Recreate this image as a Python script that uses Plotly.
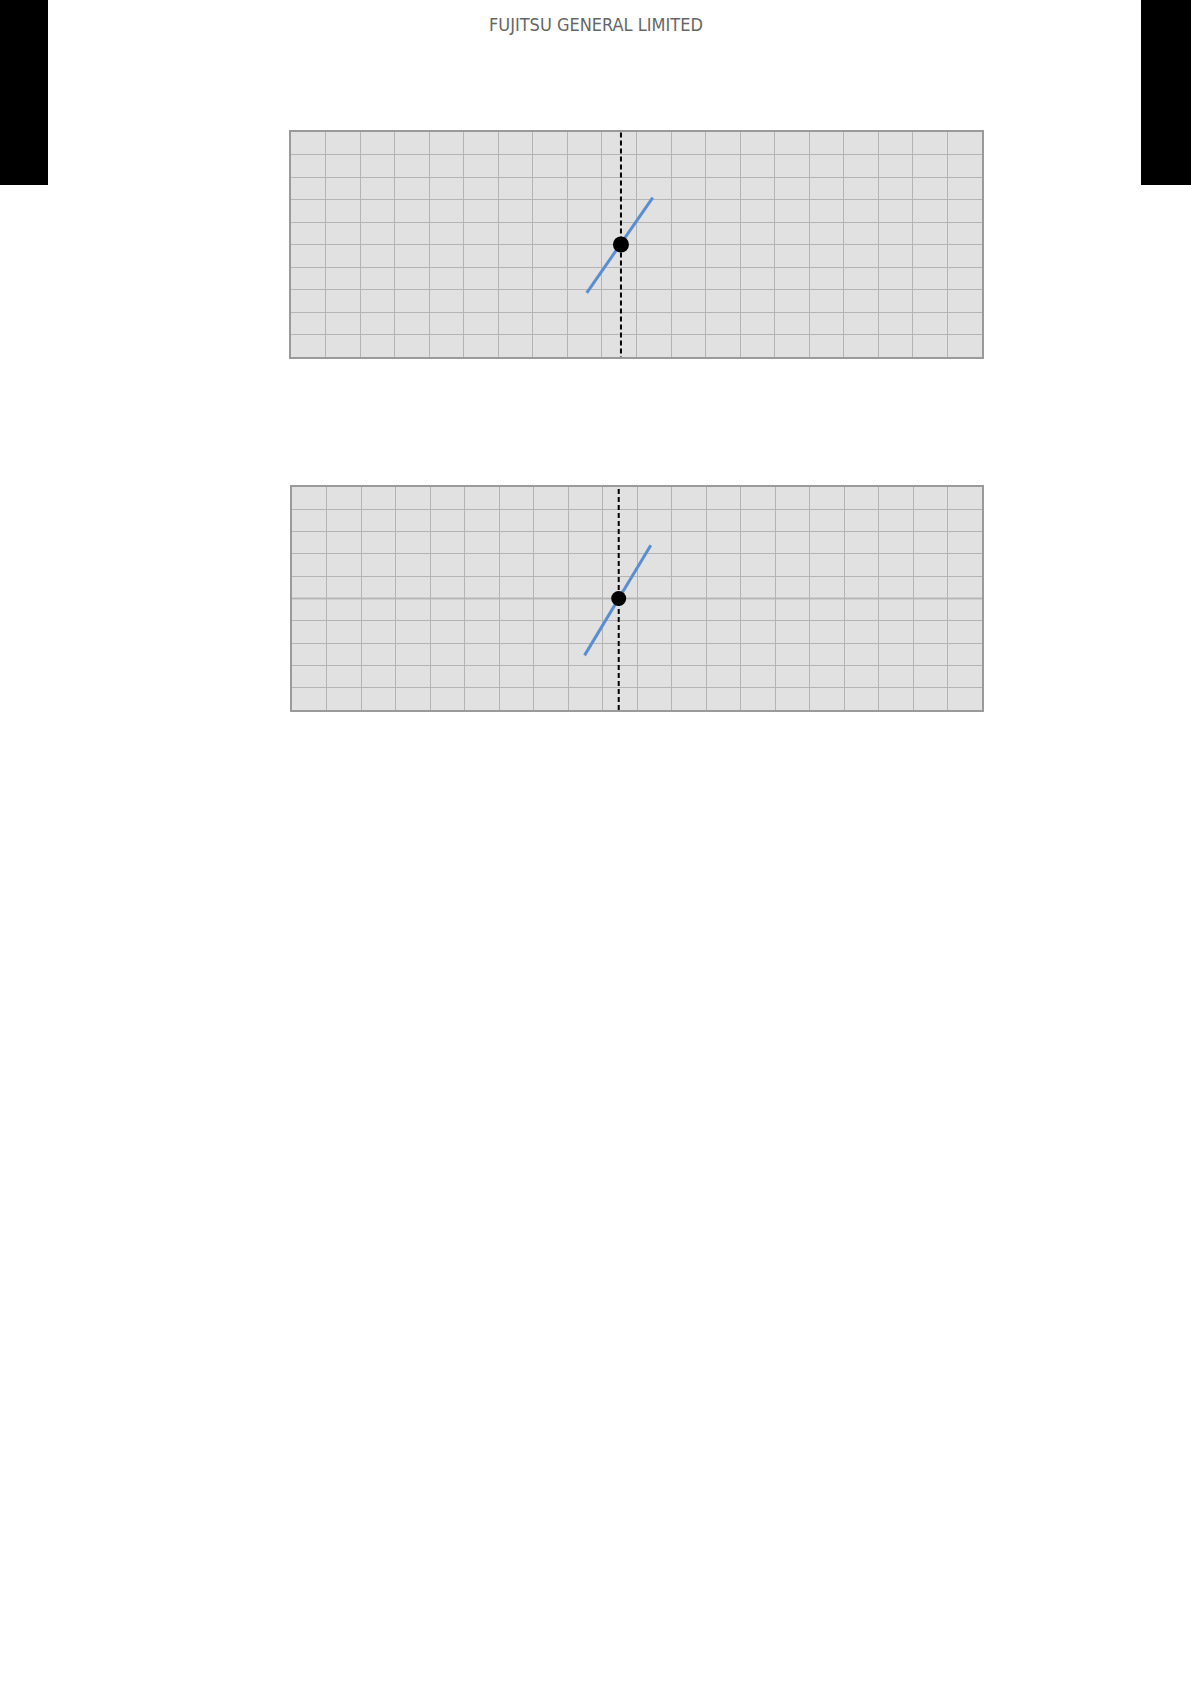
import plotly.graph_objects as go

W, H = 1191, 1684

# upper chart
line1_x = [8.56, 10.47]
line1_y = [2.85, 7.08]
point1_x = [9.55]
point1_y = [5.0]
ref1_x = 9.55

# lower chart
line2_x = [8.48, 10.40]
line2_y = [2.45, 7.39]
point2_x = [9.47]
point2_y = [5.0]
ref2_x = 9.47

x_range = [0, 20]
y_range = [0, 10]

fig = go.Figure()

def px(x):
    return x / W

def py(y):
    return 1 - y / H

# upper chart traces
fig.add_trace(go.Scatter(x=[ref1_x, ref1_x], y=[-0.2, 10], mode='lines',
                         line=dict(color='black', width=2, dash='5px,3px'),
                         xaxis='x', yaxis='y', cliponaxis=False, showlegend=False))
fig.add_trace(go.Scatter(x=line1_x, y=line1_y, mode='lines',
                         line=dict(color='#5b8ed0', width=3),
                         xaxis='x', yaxis='y', showlegend=False))
fig.add_trace(go.Scatter(x=point1_x, y=point1_y, mode='markers',
                         marker=dict(color='black', size=16),
                         xaxis='x', yaxis='y', showlegend=False))

# lower chart traces
fig.add_trace(go.Scatter(x=[ref2_x, ref2_x], y=[0, 10], mode='lines',
                         line=dict(color='black', width=2, dash='5px,3px'),
                         xaxis='x2', yaxis='y2', showlegend=False))
fig.add_trace(go.Scatter(x=line2_x, y=line2_y, mode='lines',
                         line=dict(color='#5b8ed0', width=3),
                         xaxis='x2', yaxis='y2', showlegend=False))
fig.add_trace(go.Scatter(x=point2_x, y=point2_y, mode='markers',
                         marker=dict(color='black', size=15),
                         xaxis='x2', yaxis='y2', showlegend=False))

axis_style = dict(range=x_range, dtick=1, showgrid=True, gridcolor='#b4b4b4', gridwidth=1,
                  zeroline=False, showticklabels=False, ticks='', showline=True,
                  linecolor='#9a9a9a', linewidth=1.5, mirror=True, fixedrange=True)
yaxis_style = dict(axis_style, range=y_range)

fig.update_layout(
    width=W, height=H,
    margin=dict(l=0, r=0, t=0, b=0),
    paper_bgcolor='white',
    plot_bgcolor='#e1e1e1',
    xaxis=dict(axis_style, domain=[px(291), px(982)], anchor='y'),
    yaxis=dict(yaxis_style, domain=[py(357), py(132)], anchor='x'),
    xaxis2=dict(axis_style, domain=[px(292), px(982)], anchor='y2'),
    yaxis2=dict(yaxis_style, domain=[py(710), py(487)], anchor='x2'),
)

# darker centre line on lower chart
fig.add_shape(type='line', xref='x2 domain', yref='y2', x0=0, x1=1, y0=5, y1=5,
              line=dict(color='#999999', width=1.5), layer='below')

# black page tabs
fig.add_shape(type='rect', xref='paper', yref='paper', x0=0, x1=px(48), y0=py(185), y1=1,
              fillcolor='black', line=dict(width=0))
fig.add_shape(type='rect', xref='paper', yref='paper', x0=px(1141), x1=1, y0=py(185), y1=1,
              fillcolor='black', line=dict(width=0))

fig.add_annotation(text='FUJITSU GENERAL LIMITED', xref='paper', yref='paper',
                   x=px(595.5), y=py(25), xanchor='center', yanchor='middle', showarrow=False,
                   font=dict(family='Liberation Sans Narrow, DejaVu Sans Condensed', size=18,
                             color='#666666'))

# page has a default body margin, drop it so the figure sits at 0,0
fig.write_html("out.html", config={'displayModeBar': False},
               post_script="document.body.style.margin='0';")
